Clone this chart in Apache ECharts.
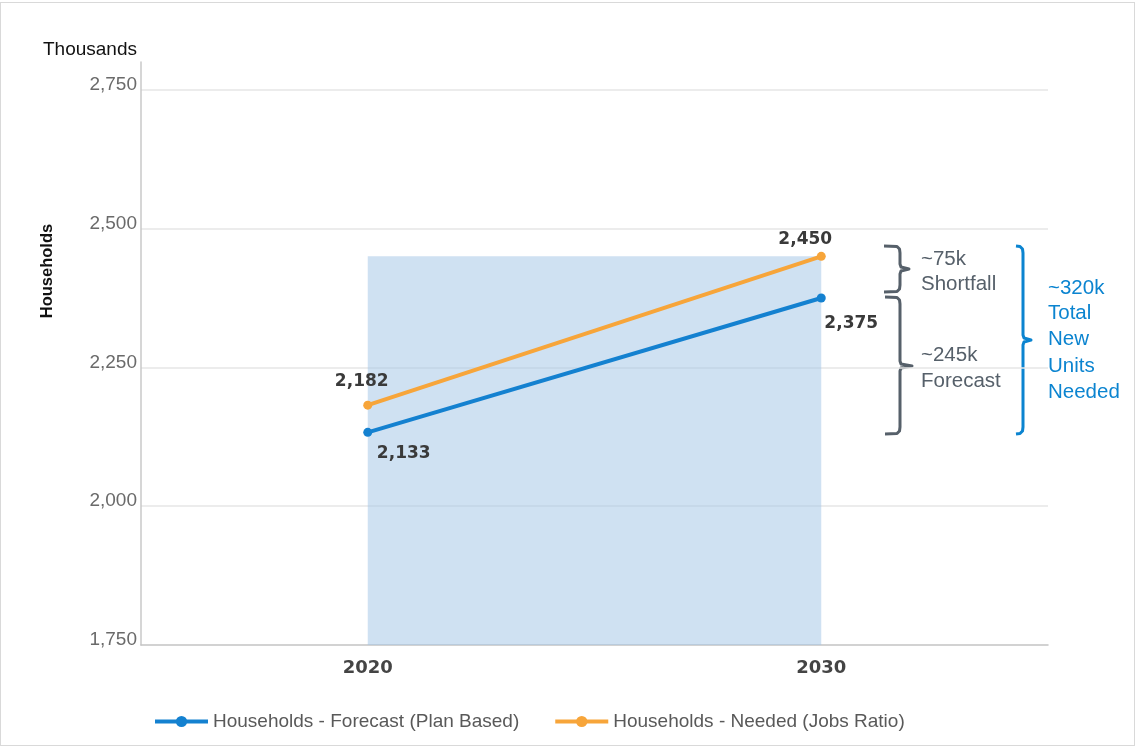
<!DOCTYPE html>
<html>
<head>
<meta charset="utf-8">
<script src="https://cdn.jsdelivr.net/npm/echarts@6/dist/echarts.min.js"></script>
<style>
  html, body { margin: 0; padding: 0; background: #fff; }
  #chart { width: 1136px; height: 748px; }
  #frame { position: absolute; left: 0; top: 2px; width: 1133px; height: 742px; border: 1px solid #d9d9d9; pointer-events: none; }
</style>
</head>
<body>
<div id="chart"></div>
<div id="frame"></div>
<script>
// ---- data ----
const years = ['2020', '2030'];
const forecastValues = [2133, 2375];
const neededValues = [2182, 2450];
const seriesNames = ['Households - Forecast (Plan Based)', 'Households - Needed (Jobs Ratio)'];
const yTicks = [1750, 2000, 2250, 2500, 2750];
const yMax = 2800;
const annotationGrey = ['~75k', 'Shortfall', '~245k', 'Forecast'];
const annotationBlue = ['~320k', 'Total', 'New', 'Units', 'Needed'];

const BLUE = '#1481d0';
const ORANGE = '#f7a53a';
const fmt = v => v.toLocaleString('en-US');

const forecastLabelOffsets = [[36, 3], [30, 8]];
const neededLabelOffsets = [[-6, -6], [-16, 1]];

const labelStyle = { fontFamily: 'DejaVu Sans', fontWeight: 'bold', fontSize: 17, color: '#3a3a3a' };

const chart = echarts.init(document.getElementById('chart'), null, { renderer: 'canvas' });

// brace builder (decorative annotation)
function brace(x, y0, y1, ym, hx, tx) {
  return [
    [hx, y0], [x - 3, y0 + 0.5], [x - 0.5, y0 + 3], [x, y0 + 7],
    [x, ym - 5], [x + 1, ym - 2], [tx, ym], [x + 1, ym + 2], [x, ym + 5],
    [x, y1 - 7], [x - 0.5, y1 - 3], [x - 3, y1 - 0.5], [hx, y1]
  ];
}

const greyTexts = [
  { t: annotationGrey[0], y: 259 },
  { t: annotationGrey[1], y: 284 },
  { t: annotationGrey[2], y: 355 },
  { t: annotationGrey[3], y: 381 }
];
const blueTexts = [288, 313, 339, 366, 392].map((y, i) => ({ t: annotationBlue[i], y }));

const graphics = [
  { type: 'text', x: 137, y: 50, style: { text: 'Thousands', fontFamily: 'Liberation Sans', fontSize: 19, fill: '#111', align: 'right', verticalAlign: 'middle' } },
  { type: 'text', x: 47, y: 271, rotation: Math.PI / 2, style: { text: 'Households', fontFamily: 'Liberation Sans', fontWeight: 'bold', fontSize: 16.5, fill: '#111', align: 'center', verticalAlign: 'middle' } },
  { type: 'polyline', shape: { points: brace(900, 246, 292, 269, 884, 909) }, style: { fill: null, stroke: '#56606a', lineWidth: 3, lineJoin: 'round' } },
  { type: 'polyline', shape: { points: brace(900, 297, 434, 366, 885, 912) }, style: { fill: null, stroke: '#56606a', lineWidth: 3, lineJoin: 'round' } },
  { type: 'polyline', shape: { points: brace(1023, 246, 434, 340, 1016, 1031) }, style: { fill: null, stroke: '#0b84d0', lineWidth: 3, lineJoin: 'round' } }
];
greyTexts.forEach(o => graphics.push({ type: 'text', x: 921, y: o.y, style: { text: o.t, fontFamily: 'Liberation Sans', fontSize: 20.5, fill: '#56606a', verticalAlign: 'middle' } }));
blueTexts.forEach(o => graphics.push({ type: 'text', x: 1048, y: o.y, style: { text: o.t, fontFamily: 'Liberation Sans', fontSize: 20.5, fill: '#0b84d0', verticalAlign: 'middle' } }));

const option = {
  animation: false,
  backgroundColor: '#fff',
  grid: { left: 141, right: 88, top: 62, bottom: 103 },
  legend: {
    data: seriesNames,
    left: 148,
    top: 707,
    itemWidth: 53,
    itemHeight: 14,
    itemGap: 34,
    lineStyle: { width: 4 },
    textStyle: { fontFamily: 'Liberation Sans', fontSize: 19, color: '#595959' }
  },
  xAxis: {
    type: 'category',
    data: years,
    boundaryGap: true,
    axisLine: { show: true, lineStyle: { color: '#c4c4c4', width: 1.5 } },
    axisTick: { show: false },
    axisLabel: { margin: 14, fontFamily: 'DejaVu Sans', fontWeight: 'bold', fontSize: 18, color: '#444' },
    splitLine: { show: false }
  },
  yAxis: {
    type: 'value',
    min: yTicks[0],
    max: yMax,
    interval: yTicks[1] - yTicks[0],
    axisLine: { show: true, lineStyle: { color: '#c8c8c8', width: 1.5 } },
    axisTick: { show: false },
    axisLabel: {
      margin: 4,
      showMaxLabel: false,
      fontFamily: 'Liberation Sans',
      fontSize: 19,
      color: '#6a6a6a',
      verticalAlign: 'bottom',
      lineHeight: 10,
      formatter: v => (yTicks.indexOf(v) >= 0 ? fmt(v) : '')
    },
    splitLine: {
      show: true,
      showMinLine: false,
      showMaxLine: false,
      lineStyle: { color: ['#e6e6e6', '#e6e6e6', '#e6e6e6', '#e6e6e6', '#e6e6e6', 'rgba(0,0,0,0)'], width: 1.5 }
    }
  },
  series: [
    {
      name: 'shade',
      type: 'line',
      data: [],
      silent: true,
      markArea: {
        silent: true,
        itemStyle: { color: 'rgba(160,196,229,0.5)' },
        data: [[{ xAxis: years[0], yAxis: yTicks[0] }, { xAxis: years[1], yAxis: neededValues[1] }]]
      }
    },
    {
      name: seriesNames[0],
      type: 'line',
      color: BLUE,
      symbol: 'circle',
      symbolSize: 9,
      lineStyle: { width: 4, color: BLUE },
      itemStyle: { color: BLUE },
      data: forecastValues.map((v, i) => ({
        value: v,
        label: { show: true, position: 'bottom', offset: forecastLabelOffsets[i], formatter: p => fmt(p.value), ...labelStyle }
      }))
    },
    {
      name: seriesNames[1],
      type: 'line',
      color: ORANGE,
      symbol: 'circle',
      symbolSize: 9,
      lineStyle: { width: 4, color: ORANGE },
      itemStyle: { color: ORANGE },
      data: neededValues.map((v, i) => ({
        value: v,
        label: { show: true, position: 'top', offset: neededLabelOffsets[i], formatter: p => fmt(p.value), ...labelStyle }
      }))
    }
  ],
  graphic: graphics
};
chart.setOption(option);
</script>
</body>
</html>
